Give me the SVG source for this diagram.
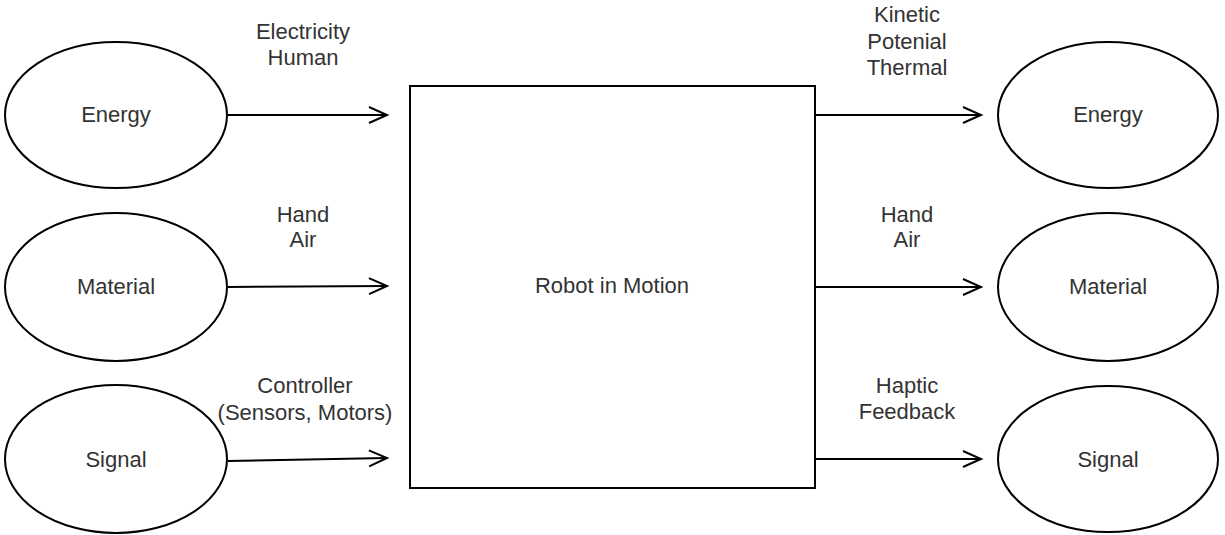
<svg xmlns="http://www.w3.org/2000/svg" width="1225" height="535" viewBox="0 0 1225 535">
  <style>
    .shape { fill: #ffffff; stroke: #000000; stroke-width: 2; }
    .conn { fill: none; stroke: #000000; stroke-width: 2; }
    text { font-family: "Liberation Sans", Arial, sans-serif; font-size: 22px; fill: #333333; text-anchor: middle; }
  </style>
  <defs>
    <marker id="open" markerUnits="userSpaceOnUse" markerWidth="24" markerHeight="22" refX="19" refY="10" orient="auto">
      <path d="M1,2 L19,10 L1,18" fill="none" stroke="#000000" stroke-width="2"/>
    </marker>
  </defs>
  <rect width="1225" height="535" fill="#ffffff"/>

  <g id="connectors">
    <line class="conn" x1="228" y1="115" x2="387" y2="115" marker-end="url(#open)"/>
    <line class="conn" x1="228" y1="287" x2="387" y2="286" marker-end="url(#open)"/>
    <line class="conn" x1="228" y1="461" x2="387" y2="458" marker-end="url(#open)"/>
    <line class="conn" x1="816" y1="115" x2="981" y2="115" marker-end="url(#open)"/>
    <line class="conn" x1="816" y1="287" x2="981" y2="287" marker-end="url(#open)"/>
    <line class="conn" x1="816" y1="459" x2="981" y2="459" marker-end="url(#open)"/>
  </g>

  <g id="labels">
    <text x="303" y="39">Electricity</text>
    <text x="303" y="65">Human</text>
    <text x="303" y="222">Hand</text>
    <text x="303" y="247">Air</text>
    <text x="305" y="393">Controller</text>
    <text x="305" y="420">(Sensors, Motors)</text>
    <text x="907" y="22">Kinetic</text>
    <text x="907" y="49">Potenial</text>
    <text x="907" y="75">Thermal</text>
    <text x="907" y="222">Hand</text>
    <text x="907" y="247">Air</text>
    <text x="907" y="393">Haptic</text>
    <text x="907" y="419">Feedback</text>
  </g>

  <g id="in-energy">
    <ellipse class="shape" cx="116" cy="115" rx="111" ry="73"/>
    <text x="116" y="122">Energy</text>
  </g>
  <g id="in-material">
    <ellipse class="shape" cx="116" cy="287" rx="111" ry="74"/>
    <text x="116" y="294">Material</text>
  </g>
  <g id="in-signal">
    <ellipse class="shape" cx="116" cy="459" rx="111" ry="74"/>
    <text x="116" y="467">Signal</text>
  </g>

  <g id="robot">
    <rect class="shape" x="410" y="86" width="405" height="402"/>
    <text x="612" y="293">Robot in Motion</text>
  </g>

  <g id="out-energy">
    <ellipse class="shape" cx="1108" cy="115" rx="110" ry="73"/>
    <text x="1108" y="122">Energy</text>
  </g>
  <g id="out-material">
    <ellipse class="shape" cx="1108" cy="287" rx="110" ry="74"/>
    <text x="1108" y="294">Material</text>
  </g>
  <g id="out-signal">
    <ellipse class="shape" cx="1108" cy="459" rx="110" ry="73"/>
    <text x="1108" y="467">Signal</text>
  </g>
</svg>
